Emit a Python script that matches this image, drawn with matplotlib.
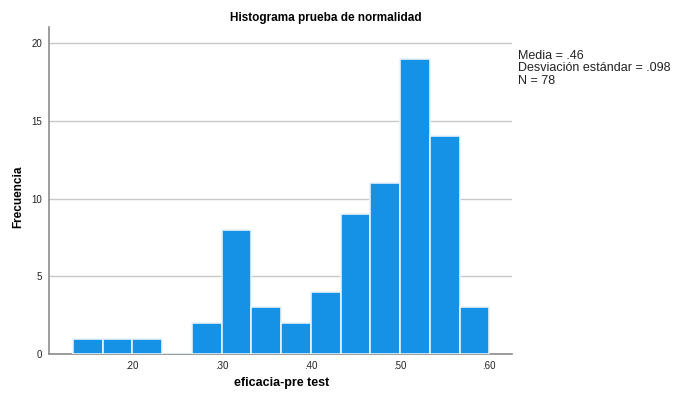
import matplotlib
matplotlib.use('Agg')
import matplotlib.pyplot as plt
import numpy as np

plt.rcParams['font.family'] = ['Liberation Sans', 'DejaVu Sans']

# histogram data
counts = [1, 1, 1, 0, 2, 8, 3, 2, 4, 9, 11, 19, 14, 3]
bin_start = 4 / 30
bin_width = 1 / 30
x_ticks = [0.20, 0.30, 0.40, 0.50, 0.60]
x_tick_labels = ['.20', '.30', '.40', '.50', '.60']
y_ticks = [0, 5, 10, 15, 20]
stats_text = ['Media = .46', 'Desviación estándar = .098', 'N = 78']

edges = bin_start + bin_width * np.arange(len(counts) + 1)

fig = plt.figure(figsize=(6.75, 3.97), dpi=100)
ax = fig.add_axes([0.073, 0.108, 0.6855, 0.825])

ax.bar(edges[:-1], counts, width=bin_width, align='edge',
       color='#1591e6', edgecolor='#e8f3fb', linewidth=1.2, zorder=3)

ax.set_xlim(0.107, 0.6254)
ax.set_ylim(0, 21.07)
ax.set_xticks(x_ticks)
ax.set_xticklabels(x_tick_labels)
ax.set_yticks(y_ticks)
ax.tick_params(axis='both', length=0, labelsize=7, colors='#222222', pad=5)
ax.yaxis.grid(True, color='#c8c8c8', linewidth=1, zorder=0)

for s in ['top', 'right']:
    ax.spines[s].set_visible(False)
for s in ['left', 'bottom']:
    ax.spines[s].set_color('#8c8c8c')
    ax.spines[s].set_linewidth(1.2)

fig.text(326 / 675, 1 - 18 / 397, 'Histograma prueba de normalidad',
         ha='center', va='center', fontsize=8.5, fontweight='bold')
fig.text(282 / 675, 1 - 383 / 397, 'eficacia-pre test',
         ha='center', va='center', fontsize=9, fontweight='bold')
fig.text(18 / 675, 1 - 197 / 397, 'Frecuencia', rotation=90,
         ha='center', va='center', fontsize=8.5, fontweight='bold')

for i, line in enumerate(stats_text):
    fig.text(518 / 675, 1 - (56 + 12.3 * i) / 397, line,
             ha='left', va='center', fontsize=9, color='#222222')

fig.savefig('out.png', dpi=100)
